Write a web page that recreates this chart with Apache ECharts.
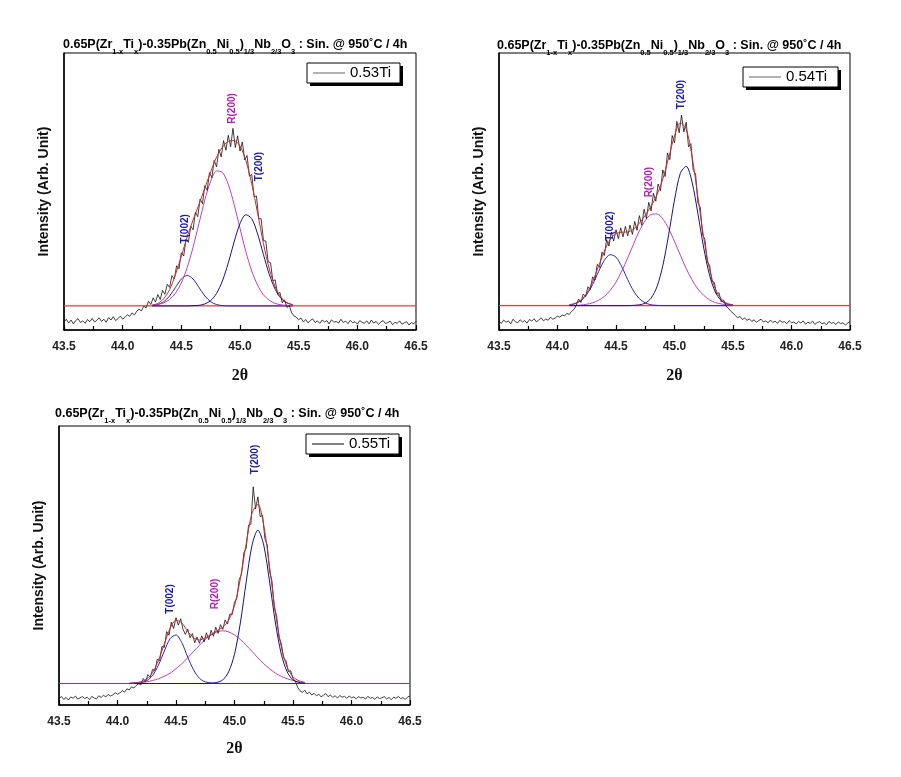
<!DOCTYPE html>
<html>
<head>
<meta charset="utf-8">
<script src="https://cdn.jsdelivr.net/npm/echarts@6/dist/echarts.min.js"></script>
<style>html,body{margin:0;padding:0;background:#fff}#c{width:901px;height:777px}</style>
</head>
<body>
<div id="c"></div>
<script>
// ---------- data ----------
const sampleNames = ['0.53Ti', '0.54Ti', '0.55Ti'];
const peakNames = ['T(002)', 'R(200)', 'T(200)'];
const xTicks = [43.5, 44.0, 44.5, 45.0, 45.5, 46.0, 46.5];

// raw scans: 2θ from 43.50 in 0.02 steps
const rawStart = 43.5, rawStep = 0.02;
const raw053 = [2.8,3.9,2.5,3.6,2.2,3.4,4.1,2.7,3.3,2.4,3.8,3.0,4.2,2.9,3.5,4.4,3.1,3.9,2.8,4.5,3.6,4.8,3.4,4.1,5.0,3.9,
4.6,5.5,4.9,6.2,5.4,6.8,7.5,6.9,8.6,8.0,
10.4,9.2,11.6,10.1,12.8,11.0,14.3,12.9,16.5,15.4,19.6,18.4,23.2,22.1,27.9,26.7,32.8,31.6,37.5,36.2,42.6,40.9,47.3,45.6,52.1,50.4,56.8,55.0,61.3,58.9,65.2,62.5,68.4,64.9,70.3,66.2,72.8,65.9,70.1,64.6,67.9,61.4,63.0,55.5,56.2,48.1,48.4,40.1,40.2,32.3,32.1,24.6,24.3,17.8,18.1,12.9,13.6,9.8,10.9,8.1,8.9,6.2,
5.1,4.6,3.7,
4.3,2.9,3.8,2.6,3.5,4.0,2.7,3.3,2.4,3.6,2.9,3.4,2.2,3.7,2.8,3.1,2.5,3.9,2.7,3.2,2.3,3.5,2.6,3.0,2.1,3.4,2.8,2.4,3.3,2.2,3.6,2.5,3.1,2.0,2.9,3.4,2.3,2.7,3.2,1.9,2.8,2.4,3.3,2.1,2.6,3.0,1.8,2.7,2.2,3.1];
const raw054 = [3.1,2.4,3.6,2.8,3.3,2.2,3.9,3.0,2.6,3.7,2.9,3.4,2.5,3.8,3.2,4.1,2.9,3.6,4.4,3.3,4.0,3.5,4.6,3.9,4.3,5.0,
4.6,5.4,5.1,6.0,5.6,6.7,7.4,
8.9,11.2,9.9,13.0,12.1,15.6,14.6,19.2,18.1,23.7,22.6,28.1,26.9,32.6,30.3,35.4,32.1,36.2,33.0,36.9,33.6,37.4,34.0,37.9,34.5,39.2,36.0,41.3,37.8,43.6,40.2,46.1,43.0,49.4,46.5,52.7,50.3,57.8,55.4,63.9,61.5,70.2,67.6,75.3,71.2,77.6,71.5,75.0,66.1,67.3,57.6,56.4,45.9,44.3,34.4,32.7,24.5,23.4,17.6,17.2,12.9,13.5,10.1,10.8,8.6,7.9,6.8,6.1,
5.2,4.4,4.9,3.8,4.3,3.5,4.0,3.1,3.7,2.8,3.4,3.9,2.9,3.3,2.6,3.6,2.7,3.2,2.4,3.5,2.8,3.0,2.3,3.4,2.6,2.9,2.2,3.1,2.5,3.3,2.1,2.8,2.4,3.2,2.0,2.7,3.0,2.3,2.6,1.9,3.1,2.4,2.7,2.0,2.9,2.3,2.6,1.8,2.5,3.0];
const raw055 = [2.2,3.1,2.0,2.7,1.8,2.9,2.4,3.2,2.1,2.6,3.0,2.3,2.8,1.9,3.1,2.5,2.2,3.3,2.7,3.5,2.9,3.8,3.2,3.6,4.4,3.9,
4.3,5.2,4.6,5.8,5.4,6.5,6.1,7.0,7.6,7.2,
9.5,8.4,10.9,9.9,12.8,12.3,16.4,15.9,21.0,20.6,26.3,25.0,29.7,27.4,31.3,28.6,30.9,27.1,25.3,27.2,24.1,25.6,22.3,24.4,22.1,24.8,22.6,25.9,23.4,26.8,24.6,27.9,25.7,28.8,27.1,30.5,29.0,32.6,32.4,36.8,38.3,44.9,47.0,54.6,56.2,64.5,64.8,78.2,70.3,74.6,67.5,68.0,59.6,57.3,47.8,44.5,34.9,32.0,24.3,22.0,16.8,15.9,12.0,12.3,9.4,8.6,6.3,
5.1,4.5,5.3,4.0,4.6,3.6,4.2,3.3,3.9,2.9,3.5,4.1,3.0,3.6,2.7,3.3,2.5,3.4,2.8,3.1,2.4,3.2,2.6,2.9,2.2,3.0,2.5,2.8,2.1,3.1,2.4,2.7,2.0,2.9,2.3,2.6,3.0,2.2,2.7,1.9,2.8,2.4,3.1,2.3,2.6,2.0,2.9,3.2];

// fitted background level
const base053 = 8.7, base054 = 8.8, base055 = 7.7;

// fitted curves: 2θ positions and values
const fitX053 = [44.25,44.30,44.35,44.40,44.45,44.50,44.55,44.60,44.65,44.70,44.75,44.80,44.85,44.90,44.95,45.00,45.05,45.10,45.15,45.20,45.25,45.30,45.35,45.40,45.45];
const sum053  = [9.0,9.6,11.3,14.6,20.0,26.7,33.6,39.7,45.3,51.2,57.1,62.4,66.0,68.1,68.4,66.4,61.2,52.8,42.2,31.2,22.0,15.6,11.8,9.9,9.1];
const t002_053 = [8.8,9.2,10.2,12.3,15.4,18.4,19.7,18.4,15.4,12.3,10.2,9.2,8.8,8.7,8.7,8.7,8.7,8.7,8.7,8.7,8.7,8.7,8.7,8.7,8.7];
const r200_053 = [8.9,9.2,9.8,11.0,13.3,17.0,22.6,29.9,38.4,46.9,53.7,57.4,56.9,52.6,45.3,36.7,28.3,21.3,16.2,12.7,10.7,9.6,9.1,8.9,8.8];
const t200_053 = [8.7,8.7,8.7,8.7,8.7,8.7,8.7,8.8,8.9,9.4,10.6,13.2,17.7,24.2,31.8,38.4,41.6,40.2,34.7,27.2,20.0,14.7,11.4,9.8,9.1];

const fitX054 = [44.10,44.15,44.20,44.25,44.30,44.35,44.40,44.45,44.50,44.55,44.60,44.65,44.70,44.75,44.80,44.85,44.90,44.95,45.00,45.05,45.10,45.15,45.20,45.25,45.30,45.35,45.40,45.45,45.50];
const sum054  = [9.1,9.6,10.8,13.3,17.4,22.9,28.4,32.7,34.8,35.3,35.4,36.4,38.6,41.4,44.7,48.8,54.5,62.2,70.1,74.8,72.5,62.7,48.0,33.3,21.8,14.7,11.2,9.6,9.1];
const t002_054 = [9.0,9.5,10.6,12.8,16.4,21.0,25.1,27.2,26.3,22.8,18.2,14.1,11.3,9.8,9.1,8.9,8.8,8.8,8.8,8.8,8.8,8.8,8.8,8.8,8.8,8.8,8.8,8.8,8.8];
const r200_054 = [8.8,8.9,9.0,9.3,9.8,10.7,12.1,14.3,17.3,21.3,26.0,31.0,35.8,39.5,41.7,41.9,40.1,36.6,32.0,27.0,22.2,18.1,14.8,12.5,10.9,9.9,9.4,9.1,8.9];
const t200_054 = [8.8,8.8,8.8,8.8,8.8,8.8,8.8,8.8,8.8,8.8,8.8,8.9,9.1,9.7,11.5,15.6,23.2,34.4,46.9,56.6,59.1,53.4,42.0,29.6,19.7,13.6,10.6,9.4,9.0];

const fitX055 = [44.10,44.15,44.20,44.25,44.30,44.35,44.40,44.45,44.50,44.55,44.60,44.65,44.70,44.75,44.80,44.85,44.90,44.95,45.00,45.05,45.10,45.15,45.20,45.25,45.30,45.35,45.40,45.45,45.50,45.55,45.60];
const sum055  = [7.8,8.0,8.3,9.3,11.6,16.0,21.9,27.5,30.4,29.4,26.4,24.1,23.3,24.1,25.3,26.6,27.9,30.4,35.6,45.2,57.8,68.8,71.9,64.4,49.4,33.1,20.8,13.6,10.1,8.7,8.1];
const t002_055 = [7.7,7.8,8.0,8.7,10.6,14.3,19.3,23.8,25.1,22.3,17.2,12.6,9.6,8.3,7.9,7.7,7.7,7.7,7.7,7.7,7.7,7.7,7.7,7.7,7.7,7.7,7.7,7.7,7.7,7.7,7.7];
const r200_055 = [7.8,7.9,8.1,8.3,8.8,9.4,10.3,11.4,13.0,14.8,16.9,19.2,21.4,23.5,25.1,26.2,26.6,26.2,25.1,23.5,21.4,19.2,16.9,14.8,13.0,11.4,10.3,9.4,8.8,8.3,8.1];
const t200_055 = [7.7,7.7,7.7,7.7,7.7,7.7,7.7,7.7,7.7,7.7,7.7,7.7,7.7,7.7,7.8,8.1,9.0,11.9,18.2,29.4,44.1,57.3,62.7,57.3,44.1,29.4,18.2,11.9,9.0,8.1,7.8];

// peak label anchor points (2θ, intensity)
const labels053 = [[44.53, 36.5], [44.93, 80], [45.165, 59]];
const labels054 = [[44.455, 37.5], [44.785, 53.4], [45.06, 85]];
const labels055 = [[44.45, 38], [44.835, 39.8], [45.18, 88]];

// ---------- chart ----------
const FONT = "'Liberation Sans', Arial, sans-serif";
const panels = [
  {name: sampleNames[0], raw: raw053, base: base053, fx: fitX053, sum: sum053, comps: [t002_053, r200_053, t200_053], lab: labels053,
   grid: {left: 64, top: 53, width: 352, height: 277}, box: [307, 63, 93, 20], title: {left: 63, top: 38}, legendColor: '#666', baseColor: '#e0403a'},
  {name: sampleNames[1], raw: raw054, base: base054, fx: fitX054, sum: sum054, comps: [t002_054, r200_054, t200_054], lab: labels054,
   grid: {left: 499, top: 53, width: 351, height: 277}, box: [743, 67, 95, 20], title: {left: 497, top: 39}, legendColor: '#666', baseColor: '#e0403a'},
  {name: sampleNames[2], raw: raw055, base: base055, fx: fitX055, sum: sum055, comps: [t002_055, r200_055, t200_055], lab: labels055,
   grid: {left: 59, top: 426, width: 351, height: 279}, box: [306, 434, 93, 20], title: {left: 55, top: 407}, legendColor: '#000', baseColor: '#9a3a5e'}
];
const compColors = ['#2626c8', '#c23cc2', '#14148a'];
const labelColors = ['#1c1cb4', '#b81cb8', '#1c1cb4'];

const titleText = '{n|0.65P(Zr}{s|1-x}{n|Ti}{s|x}{n|)-0.35Pb(Zn}{s|0.5}{n|Ni}{s|0.5}{n|)}{s|1/3}{n|Nb}{s|2/3}{n|O}{s|3}{n| : Sin. @ 950˚C / 4h}';

const option = {
  animation: false,
  backgroundColor: '#fff',
  title: [], legend: [], grid: [], xAxis: [], yAxis: [], series: [], graphic: []
};

panels.forEach((p, i) => {
  option.title.push({
    text: titleText, left: p.title.left, top: p.title.top, padding: 0,
    textStyle: {
      fontFamily: FONT, fontWeight: 'bold', color: '#000',
      rich: {
        n: {fontFamily: FONT, fontWeight: 'bold', fontSize: 12.5, lineHeight: 15, verticalAlign: 'top', color: '#000'},
        s: {fontFamily: FONT, fontWeight: 'bold', fontSize: 7.5, lineHeight: 18, verticalAlign: 'bottom', color: '#000'}
      }
    }
  });
  option.grid.push(Object.assign({show: true, borderColor: '#000', borderWidth: 1, backgroundColor: 'transparent'}, p.grid));
  const [bx, by, bw, bh] = p.box;
  option.graphic.push(
    {type: 'rect', z: 10, silent: true, shape: {x: bx + 3, y: by + 3, width: bw, height: bh}, style: {fill: '#000'}},
    {type: 'rect', z: 11, silent: true, shape: {x: bx, y: by, width: bw, height: bh}, style: {fill: '#fff', stroke: '#000', lineWidth: 1}}
  );
  option.legend.push({
    data: [p.name], left: bx + 6, top: by + 2, orient: 'horizontal', z: 20,
    icon: 'rect', itemWidth: 32, itemHeight: 1, itemGap: 0,
    itemStyle: {color: p.legendColor},
    padding: 0, selectedMode: false,
    textStyle: {fontFamily: FONT, fontSize: 15, color: '#000', lineHeight: 16}
  });
  option.xAxis.push({
    gridIndex: i, type: 'value', min: xTicks[0], max: xTicks[xTicks.length - 1], interval: 0.5,
    name: '2θ', nameLocation: 'middle', nameGap: i === 2 ? 36 : 38,
    nameTextStyle: {fontFamily: "'Liberation Serif', 'DejaVu Serif', serif", fontWeight: 'bold', fontSize: 16, color: '#111'},
    axisLine: {show: true, onZero: false, lineStyle: {color: '#000', width: 1.5}},
    axisTick: {show: true, inside: true, length: 5, lineStyle: {color: '#000', width: 1.2}},
    minorTick: {show: true, splitNumber: 2, length: 4, lineStyle: {color: '#000', width: 1.2}},
    axisLabel: {margin: 11, fontFamily: FONT, fontWeight: 'bold', fontSize: 12, color: '#222', formatter: v => v.toFixed(1)},
    splitLine: {show: false}
  });
  option.yAxis.push({
    gridIndex: i, type: 'value', min: 0, max: 100,
    name: 'Intensity (Arb. Unit)', nameLocation: 'middle', nameGap: 13,
    nameTextStyle: {fontFamily: FONT, fontWeight: 'bold', fontSize: 14, color: '#111'},
    axisLine: {show: true, lineStyle: {color: '#000', width: 1.5}},
    axisTick: {show: false}, axisLabel: {show: false}, splitLine: {show: false}
  });
  // background line
  option.series.push({
    type: 'line', xAxisIndex: i, yAxisIndex: i, symbol: 'none', silent: true,
    data: [[xTicks[0], p.base], [xTicks[xTicks.length - 1], p.base]],
    lineStyle: {color: p.baseColor, width: 1.1}
  });
  // peak components
  p.comps.forEach((arr, k) => {
    const lp = p.lab[k];
    option.series.push({
      type: 'line', xAxisIndex: i, yAxisIndex: i, symbol: 'none', smooth: 0.3, silent: true,
      data: arr.map((v, j) => [p.fx[j], v]),
      lineStyle: {color: compColors[k], width: 1},
      markPoint: {
        symbol: 'circle', symbolSize: 1, silent: true,
        itemStyle: {color: 'rgba(0,0,0,0)'},
        label: {show: true, formatter: '{b}', rotate: 90, position: 'inside',
                fontFamily: FONT, fontWeight: 'bold', fontSize: 10, color: labelColors[k]},
        data: [{name: peakNames[k], coord: lp}]
      }
    });
  });
  // raw scan
  option.series.push({
    name: p.name, type: 'line', xAxisIndex: i, yAxisIndex: i, symbol: 'none', silent: true,
    data: p.raw.map((v, j) => [rawStart + j * rawStep, v]),
    lineStyle: {color: '#111', width: 0.8}, itemStyle: {color: '#111'}
  });
  // fitted sum
  option.series.push({
    type: 'line', xAxisIndex: i, yAxisIndex: i, symbol: 'none', smooth: 0.3, silent: true,
    data: p.sum.map((v, j) => [p.fx[j], v]),
    lineStyle: {color: '#d02a2a', width: 1}
  });
});

const chart = echarts.init(document.getElementById('c'), null, {renderer: 'canvas'});
chart.setOption(option);
</script>
</body>
</html>
